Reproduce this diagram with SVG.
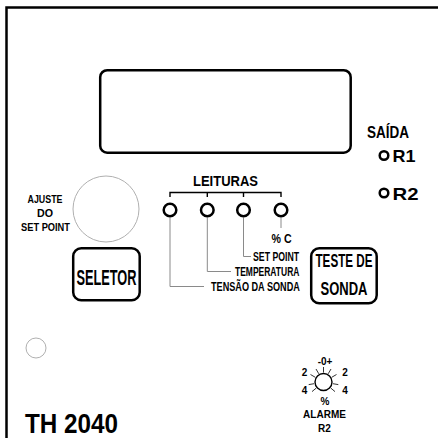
<svg xmlns="http://www.w3.org/2000/svg" width="438" height="438" viewBox="0 0 438 438">
<style>
.c{font-family:"Liberation Sans Narrow","Liberation Sans",Arial,sans-serif;font-weight:bold;fill:#000}
.s{font-family:"Liberation Sans",Arial,sans-serif;font-weight:bold;fill:#000;font-size:12.5px}
.n{font-family:"Liberation Sans",Arial,sans-serif;font-weight:bold;fill:#000}
.thick{fill:none;stroke:#000;stroke-width:2.5}
.led{fill:#fff;stroke:#000;stroke-width:2.5}
.gray{fill:none;stroke:#b0b0b0;stroke-width:1}
.lead{fill:none;stroke:#8a8a8a;stroke-width:1}
.ray{stroke:#000;stroke-width:0.8}
</style>
<rect width="438" height="438" fill="#fff"/>
<path id="frame" d="M6.5 438 V7.5 H438" class="thick" stroke-width="3"/>
<g id="display"><rect x="100.2" y="70.2" width="250.5" height="82.5" rx="7" class="thick"/></g>
<g id="saida"><text x="367" y="138" class="c" font-size="16" textLength="42" lengthAdjust="spacingAndGlyphs">SAÍDA</text></g>
<g id="r1"><circle cx="384" cy="155.5" r="4.3" class="thick" stroke-width="2"/><text x="392.5" y="162" class="c" font-size="17" textLength="23" lengthAdjust="spacingAndGlyphs">R1</text></g>
<g id="r2"><circle cx="384" cy="193" r="4.3" class="thick" stroke-width="2"/><text x="392.5" y="199.5" class="c" font-size="17" textLength="26" lengthAdjust="spacingAndGlyphs">R2</text></g>
<g id="ajuste">
<circle cx="106" cy="209" r="33" class="gray"/>
<text x="27.5" y="203" class="c" font-size="11" textLength="35" lengthAdjust="spacingAndGlyphs">AJUSTE</text>
<text x="37" y="217" class="c" font-size="11" textLength="16" lengthAdjust="spacingAndGlyphs">DO</text>
<text x="21" y="230.5" class="c" font-size="11" textLength="49" lengthAdjust="spacingAndGlyphs">SET POINT</text>
</g>
<g id="leituras">
<text x="193" y="186" class="c" font-size="14.5" textLength="65" lengthAdjust="spacingAndGlyphs">LEITURAS</text>
<path d="M170 197 V192.5 H281 V197 M207.3 192.5 V197 M243.5 192.5 V197" fill="none" stroke="#000" stroke-width="1.4"/>
</g>
<g id="connectors">
<path d="M170 217.5 V286.5 H204" class="lead"/>
<path d="M207.3 217.5 V271.5 H231" class="lead"/>
<path d="M243.5 217.5 V256.5 H251" class="lead"/>
<path d="M281 217.5 V228" class="lead"/>
</g>
<g id="led1"><circle cx="170" cy="210" r="6.3" class="led"/></g>
<g id="led2"><circle cx="207.3" cy="210" r="6.3" class="led"/></g>
<g id="led3"><circle cx="243.5" cy="210" r="6.3" class="led"/></g>
<g id="led4"><circle cx="281" cy="210" r="6.3" class="led"/></g>
<g id="labels">
<text transform="matrix(0.85 0 0 1 271.5 243)" class="s">% C</text>
<text transform="matrix(0.7 0 0 1 253 260.5)" class="s">SET POINT</text>
<text transform="matrix(0.68 0 0 1 235 275.5)" class="s">TEMPERATURA</text>
<text transform="matrix(0.73 0 0 1 211 291)" class="s">TENSÃO DA SONDA</text>
</g>
<g id="seletor">
<rect x="73.2" y="248.2" width="66.5" height="52" rx="8" class="thick"/>
<text x="76.5" y="284.5" class="c" font-size="22" textLength="60" lengthAdjust="spacingAndGlyphs">SELETOR</text>
</g>
<g id="teste">
<rect x="311.2" y="248.2" width="65.5" height="55" rx="8" class="thick"/>
<text x="315.5" y="267" class="c" font-size="18.5" textLength="57" lengthAdjust="spacingAndGlyphs">TESTE DE</text>
<text x="320.5" y="295" class="c" font-size="18.5" textLength="47" lengthAdjust="spacingAndGlyphs">SONDA</text>
</g>
<g id="led-small"><circle cx="36" cy="348" r="10" class="gray"/></g>
<g id="model"><text x="25" y="433" class="n" font-size="27" textLength="93" lengthAdjust="spacingAndGlyphs">TH 2040</text></g>
<g id="alarme">
<circle cx="323.5" cy="382" r="8.5" fill="#fff" stroke="#000" stroke-width="1.4"/>
<path class="ray" d="M323.5 372.5 V367 M328.2 373.8 L331 369 M331.7 377.3 L336.5 374.5 M332.9 383.7 L338.3 384.6 M330.8 388.1 L335 391.6 M318.8 373.8 L316 369 M315.3 377.3 L310.5 374.5 M314.1 383.7 L308.7 384.6 M316.2 388.1 L312 391.6"/>
<text x="325" y="365" text-anchor="middle" class="n" font-size="10">-0+</text>
<text x="304.5" y="376" text-anchor="middle" class="n" font-size="10">2</text>
<text x="345" y="376" text-anchor="middle" class="n" font-size="10">2</text>
<text x="304.5" y="394" text-anchor="middle" class="n" font-size="10">4</text>
<text x="345" y="394" text-anchor="middle" class="n" font-size="10">4</text>
<text x="325" y="405" text-anchor="middle" class="n" font-size="10">%</text>
<text x="324.5" y="418" text-anchor="middle" class="n" font-size="10">ALARME</text>
<text x="324.5" y="432" text-anchor="middle" class="n" font-size="10">R2</text>
</g>
</svg>
